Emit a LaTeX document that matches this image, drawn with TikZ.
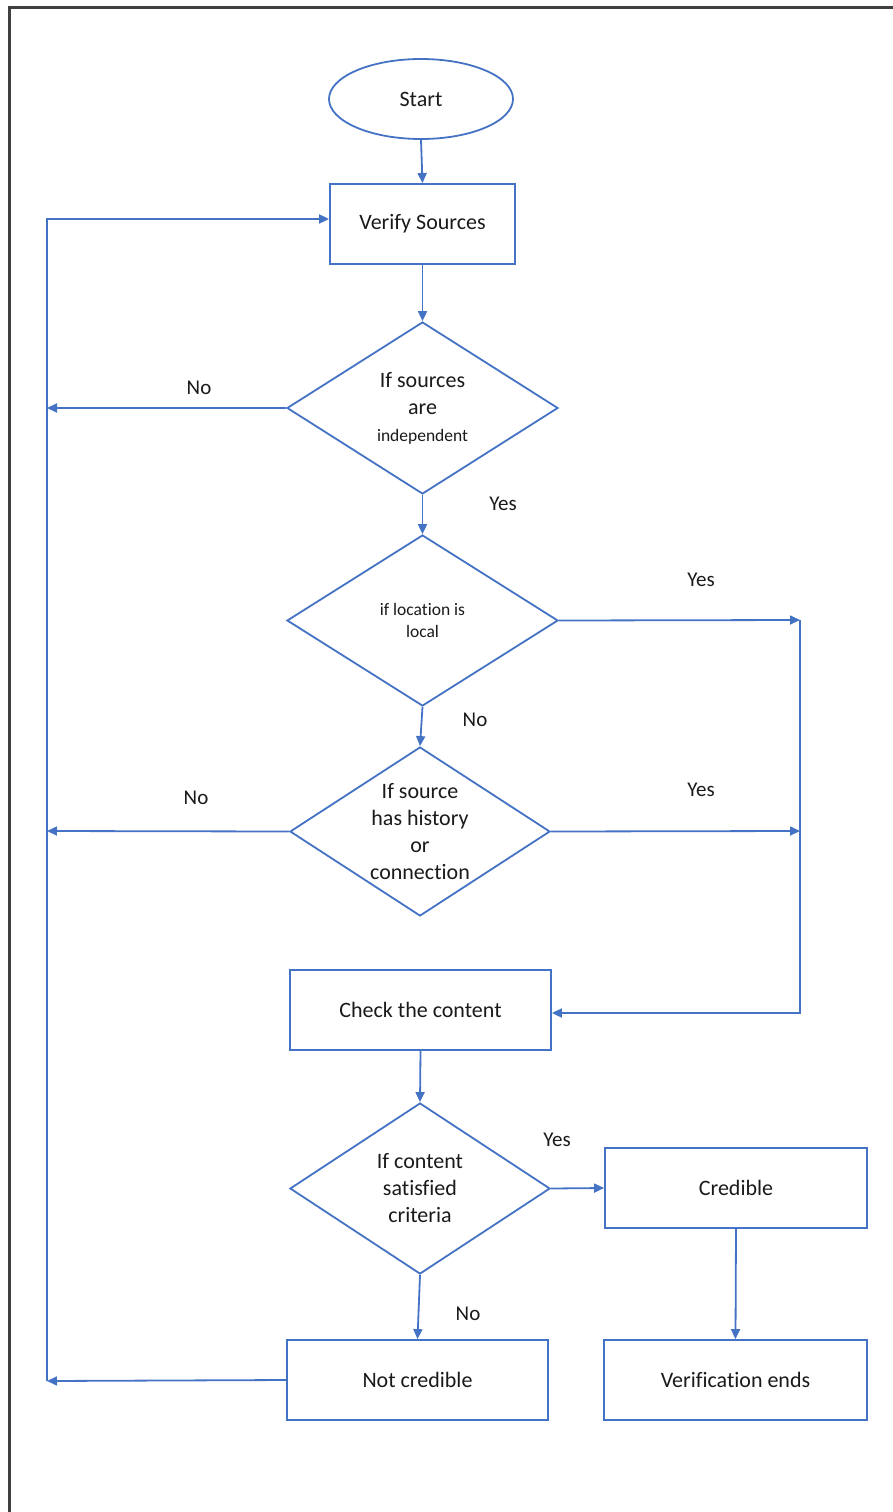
\documentclass[tikz,border=0pt]{standalone}
\usepackage{fontspec}
\setmainfont{Carlito}[Ligatures=NoCommon]
\usetikzlibrary{shapes.geometric,arrows.meta}
\definecolor{flowblue}{HTML}{4472C4}
\definecolor{inkgray}{HTML}{1A1A1A}
\definecolor{framegray}{HTML}{404040}

\begin{document}
\begin{tikzpicture}[x=1pt,y=-1pt,
  every node/.style={font=\fontsize{22}{27}\selectfont, text=inkgray},
  flowline/.style={draw=flowblue, line width=1.8pt},
  arrowline/.style={flowline, -{Triangle[length=10pt,width=9pt]}},
  procbox/.style={draw=flowblue, line width=1.8pt, rectangle, inner sep=0pt,
    minimum height=80pt, align=center},
  decision/.style={draw=flowblue, line width=1.8pt, diamond, inner sep=0pt,
    aspect=1.58, align=center},
  terminal/.style={draw=flowblue, line width=1.8pt, ellipse, inner sep=0pt},
  branchlabel/.style={font=\fontsize{21}{25}\selectfont},
]
\useasboundingbox (0,0) rectangle (893,1512);

% page frame (top and left edges)
\draw[framegray, line width=2.2pt] (9.5,1512) -- (9.5,7.5) -- (893,7.5);

% flow steps
\node[terminal, minimum width=184pt, minimum height=80pt] (start) at (421,99) {Start};
\node[procbox, minimum width=185pt] (verify) at (422.5,224) {Verify Sources};
\node[decision, minimum width=271pt, minimum height=172pt] (indep) at (422.5,408)
  {If sources\\are\\{\fontsize{17.5}{22}\selectfont independent}};
\node[decision, minimum width=271pt, minimum height=171pt,
  font=\fontsize{17.5}{22}\selectfont] (local) at (422.5,620.5) {if location is\\local};
\node[decision, minimum width=260pt, minimum height=169pt] (history) at (420,831.5)
  {If source\\has history\\or\\connection};
\node[procbox, minimum width=261pt] (check) at (420.5,1010) {Check the content};
\node[decision, minimum width=260pt, minimum height=171pt] (criteria) at (420,1188.5)
  {If content\\satisfied\\criteria};
\node[procbox, minimum width=262pt] (credible) at (736,1188) {Credible};
\node[procbox, minimum width=263pt] (ends) at (735.5,1380) {Verification ends};
\node[procbox, minimum width=261pt] (notcred) at (417.5,1380) {Not credible};

% rail points
\coordinate (railTop) at (47,219);
\coordinate (noA) at (47,408);
\coordinate (noB) at (47,831);
\coordinate (noC) at (47,1381);
\coordinate (yesA) at (800,620);
\coordinate (yesB) at (800,831);
\coordinate (railBottom) at (800,1013);

% main flow
\draw[arrowline] (start.south) -- (verify.north);
\draw[arrowline] (verify.south) -- (indep.north);
\draw[arrowline] (indep.south) -- (local.north);
\draw[arrowline] (local.south) -- (history.north);
\draw[arrowline] (check.south) -- (criteria.north);
\draw[arrowline] (criteria.east) -- (credible.west);
\draw[arrowline] (credible.south) -- (ends.north);
\draw[arrowline] (criteria.south) -- (notcred.north);

% return loop on the left
\draw[arrowline] (indep.west) -- (noA);
\draw[arrowline] (history.west) -- (noB);
\draw[arrowline] (notcred.west) -- (noC);
\draw[arrowline] (noC) -- (railTop) -- (verify.west |- railTop);

% shortcut on the right
\draw[arrowline] (local.east) -- (yesA);
\draw[arrowline] (history.east) -- (yesB);
\draw[arrowline] (yesA) -- (railBottom) -- (check.east |- railBottom);

% branch labels
\node[branchlabel] (lblNo1) at (199,388) {No};
\node[branchlabel] (lblYes1) at (503,504) {Yes};
\node[branchlabel] (lblYes2) at (701,580) {Yes};
\node[branchlabel] (lblNo2) at (475,720) {No};
\node[branchlabel] (lblNo3) at (196,798) {No};
\node[branchlabel] (lblYes3) at (701,790) {Yes};
\node[branchlabel] (lblYes4) at (557,1140) {Yes};
\node[branchlabel] (lblNo4) at (468,1314) {No};
\end{tikzpicture}
\end{document}
